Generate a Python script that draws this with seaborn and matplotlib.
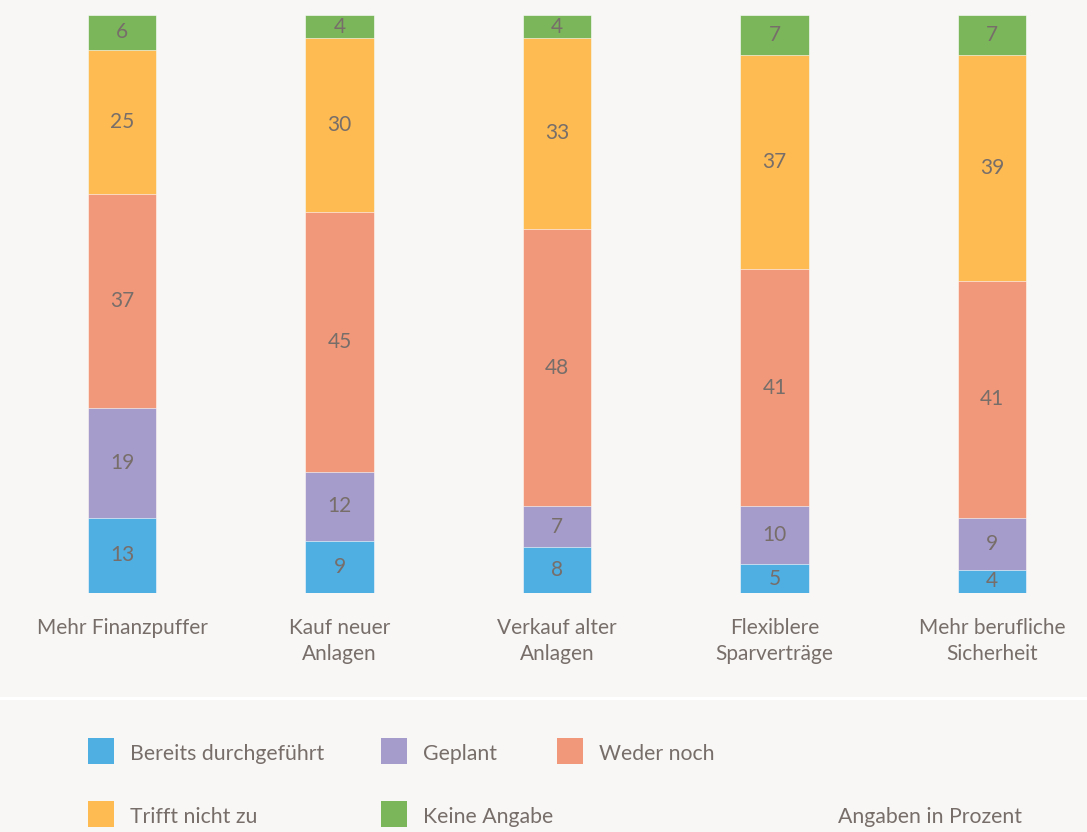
import numpy as np
import pandas as pd
import matplotlib
matplotlib.use("Agg")
import matplotlib.pyplot as plt
from matplotlib.patches import Rectangle
from matplotlib.lines import Line2D
import seaborn as sns

# Survey answers per measure, in percent
categories = ["Mehr Finanzpuffer", "Kauf neuer\nAnlagen", "Verkauf alter\nAnlagen",
              "Flexiblere\nSparverträge", "Mehr berufliche\nSicherheit"]
series_names = ["Bereits durchgeführt", "Geplant", "Weder noch", "Trifft nicht zu", "Keine Angabe"]
bereits = [13, 9, 8, 5, 4]
geplant = [19, 12, 7, 10, 9]
weder = [37, 45, 48, 41, 41]
trifft_nicht = [25, 30, 33, 37, 39]
keine_angabe = [6, 4, 4, 7, 7]
note_text = "Angaben in Prozent"

colors = ["#4faee2", "#a69ccc", "#f2987a", "#fdbb52", "#7bb75a"]
bg = "#f8f7f5"
text_col = "#776e6a"
font = "Lato"

sns.set_theme(style="white")
plt.rcParams["font.family"] = [font, "DejaVu Sans"]

series = [bereits, geplant, weder, trifft_nicht, keine_angabe]
df = pd.DataFrame({name: vals for name, vals in zip(series_names, series)})
df["Kategorie"] = categories
cum = df[series_names].cumsum(axis=1)

fig = plt.figure(figsize=(10.87, 8.32), dpi=100, facecolor=bg)
H = 832.0
ax = fig.add_axes([0, (H - 593) / H, 1, (593 - 15) / H])
ax.set_facecolor(bg)

# stacked bars: draw cumulative totals from the top segment down
for name, col in reversed(list(zip(series_names, colors))):
    sns.barplot(x="Kategorie", y=name, data=cum.assign(Kategorie=categories),
                color=col, width=0.317, ax=ax, saturation=1,
                edgecolor="#ffffff", linewidth=0.4, order=categories)

# value labels in the middle of each segment
for i in range(len(categories)):
    for j, name in enumerate(series_names):
        top = cum.loc[i, name]
        val = df.loc[i, name]
        ax.text(i, top - val / 2, f"{val}", ha="center", va="center",
                fontsize=15, color=text_col)

ax.set_ylim(0, 100)
ax.set_xlim(-122 / 217.5, (1087 - 122) / 217.5)
ax.set_yticks([])
ax.set_xlabel("")
ax.set_ylabel("")
ax.tick_params(axis="x", length=0, pad=18, labelsize=15, labelcolor=text_col)
for lbl in ax.get_xticklabels():
    lbl.set_linespacing(1.38)
sns.despine(ax=ax, left=True, bottom=True)

# separator between chart and legend
fig.add_artist(Line2D([0, 1], [(H - 698) / H] * 2, color="#ffffff", lw=2.2,
                      transform=fig.transFigure))

# legend grid
legend_pos = [(88, 738), (381, 738), (557, 738), (88, 801), (381, 801)]
for (x, y), name, col in zip(legend_pos, series_names, colors):
    fig.add_artist(Rectangle((x / 1087, (H - y - 26) / H), 26 / 1087, 26 / H,
                             facecolor=col, edgecolor="none", transform=fig.transFigure))
    fig.text((x + 42) / 1087, (H - y - 16) / H, name, ha="left", va="center",
             fontsize=15.3, color=text_col)
fig.text(838 / 1087, (H - 817) / H, note_text, ha="left", va="center",
         fontsize=15.3, color=text_col)

fig.savefig("out.png", dpi=100, facecolor=bg)
